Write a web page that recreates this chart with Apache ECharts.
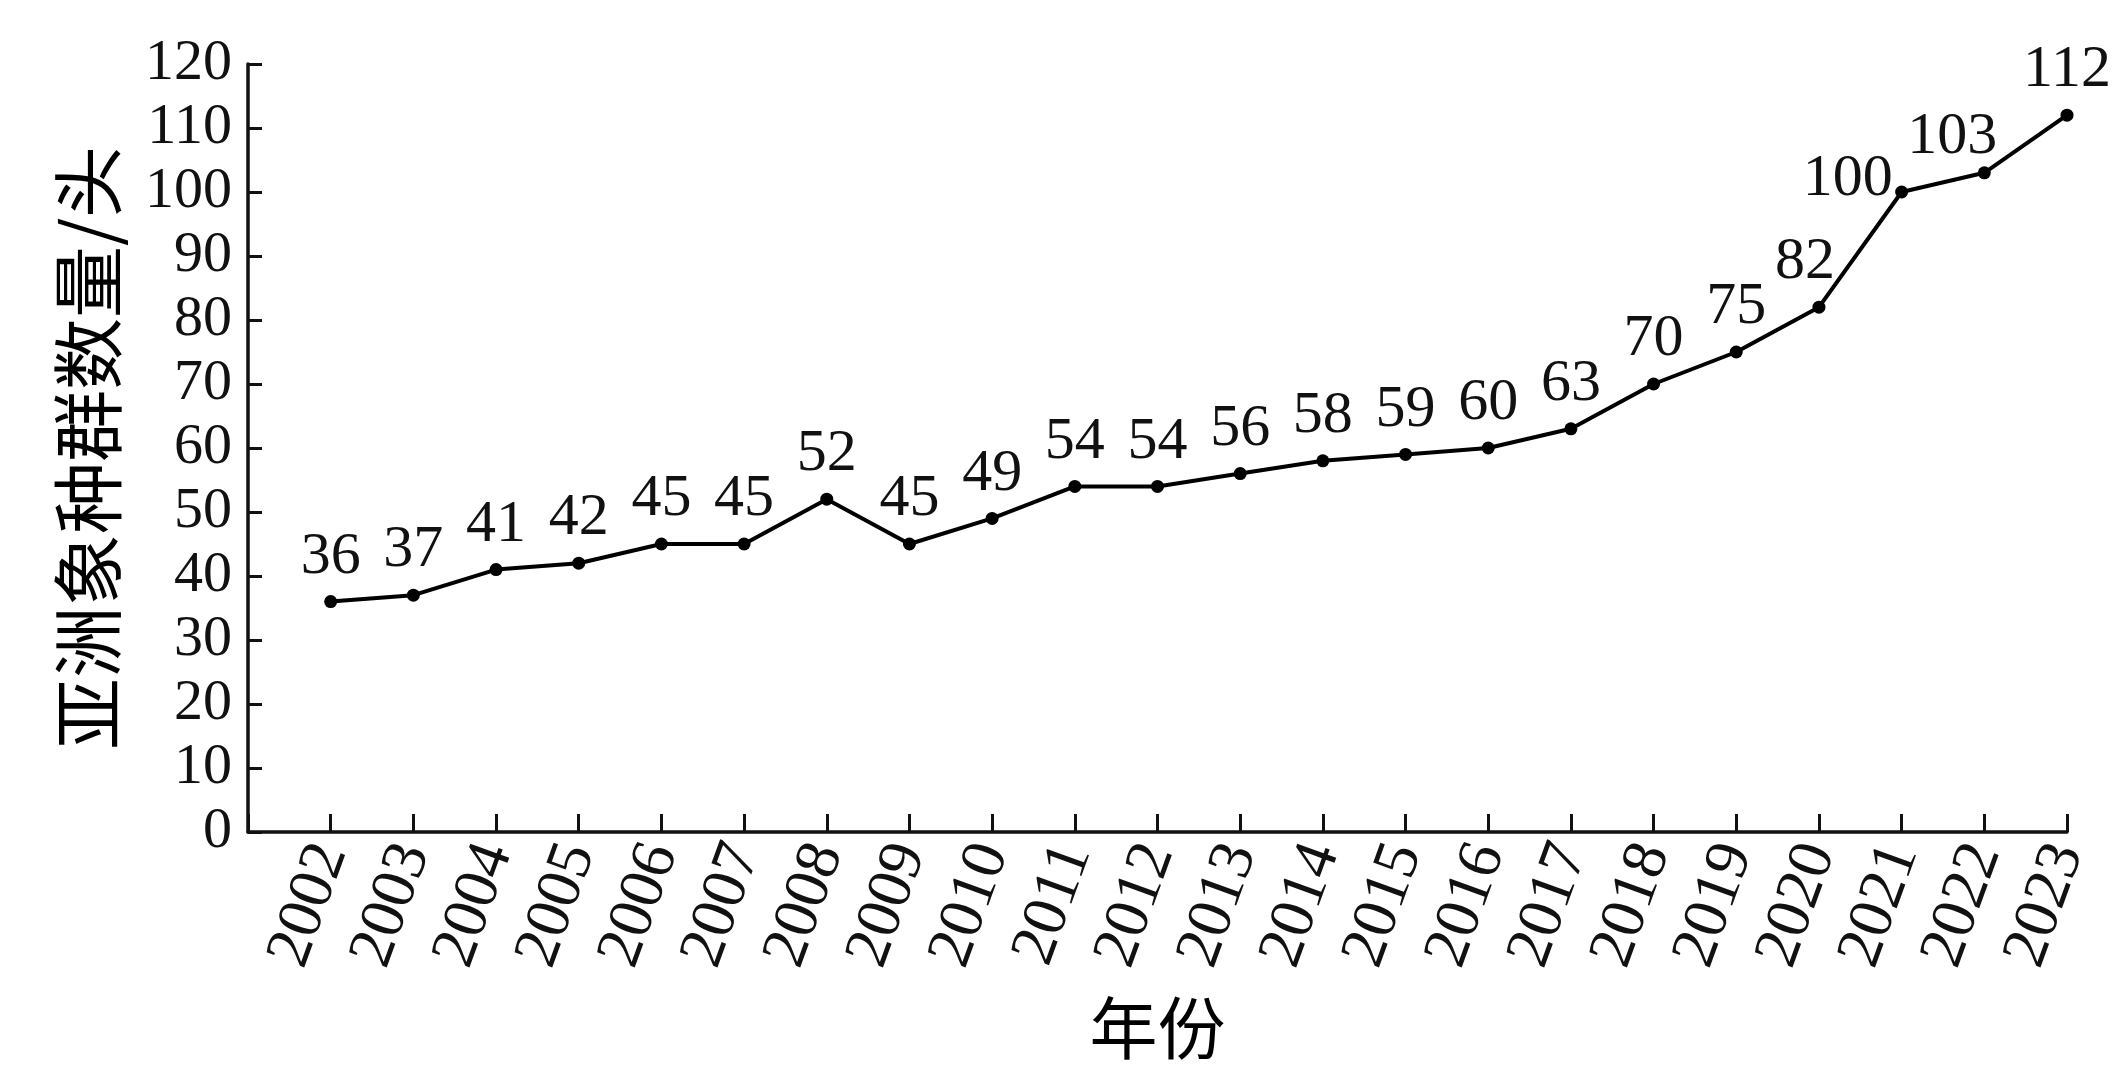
<!DOCTYPE html>
<html>
<head>
<meta charset="utf-8">
<script src="https://cdn.jsdelivr.net/npm/echarts@6/dist/echarts.min.js"></script>
<style>
html,body{margin:0;padding:0;background:#fff;}
#chart{width:2123px;height:1073px;}
</style>
</head>
<body>
<div id="chart"></div>
<script>
// Data
const years = [2002,2003,2004,2005,2006,2007,2008,2009,2010,2011,2012,2013,2014,2015,2016,2017,2018,2019,2020,2021,2022,2023];
const population = [36,37,41,42,45,45,52,45,49,54,54,56,58,59,60,63,70,75,82,100,103,112];
const yTicks = [0,10,20,30,40,50,60,70,80,90,100,110,120];
const xAxisTitle = '年份';
const yAxisTitle = '亚洲象种群数量/头';

// label nudges (style only) for crowded steep segment
const labelNudge = {2020: [-14, 0], 2021: [-54, 32], 2022: [-32, 9]};

const serif = '"Liberation Serif","Times New Roman",serif';
const cjk = '"Noto Sans CJK SC","Noto Sans",sans-serif';

const seriesData = years.map((y, i) => {
  const item = {value: [y, population[i]]};
  if (labelNudge[y]) item.label = {offset: labelNudge[y]};
  return item;
});

const chart = echarts.init(document.getElementById('chart'), null, {renderer: 'canvas'});
chart.setOption({
  backgroundColor: '#ffffff',
  animation: false,
  grid: {left: 248, right: 56, top: 64, bottom: 241, containLabel: false, outerBoundsMode: 'none'},
  xAxis: {
    type: 'value',
    min: years[0] - 1,
    max: years[years.length - 1],
    interval: 1,
    splitLine: {show: false},
    axisLine: {show: true, onZero: false, lineStyle: {color: '#111', width: 3.5}},
    axisTick: {show: true, inside: true, length: 18, lineStyle: {color: '#111', width: 3}},
    axisLabel: {
      rotate: 70,
      margin: 14,
      fontFamily: serif,
      fontSize: 63,
      color: '#111',
      formatter: v => (years.indexOf(v) >= 0 ? String(v) : '')
    },
    name: xAxisTitle,
    nameLocation: 'middle',
    nameGap: 162,
    nameTextStyle: {fontFamily: cjk, fontSize: 68, color: '#000'}
  },
  yAxis: {
    type: 'value',
    min: yTicks[0],
    max: yTicks[yTicks.length - 1],
    interval: yTicks[1] - yTicks[0],
    splitLine: {show: false},
    axisLine: {show: true, lineStyle: {color: '#111', width: 3.5}},
    axisTick: {show: true, inside: true, length: 14, lineStyle: {color: '#111', width: 3}},
    axisLabel: {
      margin: 16,
      fontFamily: serif,
      fontSize: 58,
      color: '#111'
    },
    name: yAxisTitle,
    nameLocation: 'middle',
    nameGap: 124,
    nameTextStyle: {fontFamily: cjk, fontSize: 72, color: '#000'}
  },
  series: [{
    type: 'line',
    data: seriesData,
    symbol: 'circle',
    symbolSize: 13,
    itemStyle: {color: '#000'},
    lineStyle: {color: '#000', width: 4},
    label: {
      show: true,
      position: 'top',
      distance: 8,
      fontFamily: serif,
      fontSize: 60,
      color: '#111',
      formatter: p => String(p.value[1])
    }
  }]
});
</script>
</body>
</html>
